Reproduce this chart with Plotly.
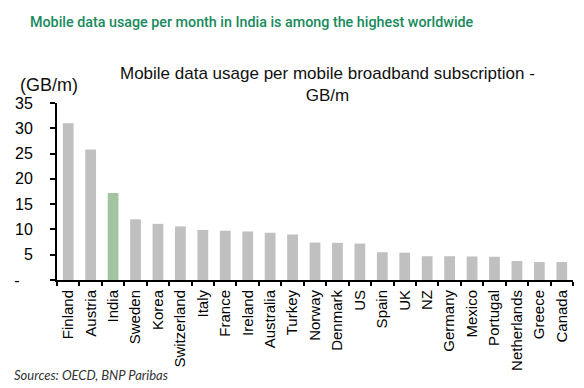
import plotly.graph_objects as go

countries = ["Finland", "Austria", "India", "Sweden", "Korea", "Switzerland", "Italy",
             "France", "Ireland", "Australia", "Turkey", "Norway", "Denmark", "US",
             "Spain", "UK", "NZ", "Germany", "Mexico", "Portugal", "Netherlands",
             "Greece", "Canada"]
usage = [31.0, 25.8, 17.2, 12.0, 11.1, 10.6, 9.9, 9.75, 9.6, 9.35, 9.0, 7.4, 7.35, 7.2,
         5.5, 5.4, 4.7, 4.7, 4.65, 4.6, 3.75, 3.55, 3.55]
y_tickvals = [0, 5, 10, 15, 20, 25, 30, 35]
y_ticktext = ["-\u00a0\u00a0\u00a0", "5", "10", "15", "20", "25", "30", "35"]

colors = ["#a3c4a1" if c == "India" else "#c0c0c0" for c in countries]

OFF = 8  # page body margin
W, H = 584 - OFF, 388 - OFF
PL, PR, PT, PB = 57, 573, 103, 280  # plot area in window pixels
L, R, T, B = PL - OFF, 584 - PR, PT - OFF, 388 - PB
pw, ph = W - L - R, H - T - B

def px(x):
    return (x - PL) / pw

def py(y):
    return (PB - y) / ph

fig = go.Figure(go.Bar(x=countries, y=usage, marker=dict(color=colors, line=dict(width=0)),
                       width=0.48))

fig.update_layout(
    width=W, height=H,
    margin=dict(l=L, r=R, t=T, b=B),
    paper_bgcolor="white", plot_bgcolor="white",
    showlegend=False,
    font=dict(family="Liberation Sans, Arial, sans-serif", color="#000"),
    xaxis=dict(
        type="category", tickangle=-90, tickfont=dict(size=15, color="#000"),
        showline=True, linecolor="#000", linewidth=2,
        ticks="outside", ticklen=4, tickwidth=2, tickcolor="#000",
        tickson="boundaries", showgrid=False, range=[-0.5, len(countries) - 0.5],
        ticklabelstandoff=2, automargin=False,
    ),
    yaxis=dict(
        range=[0, 35], tickvals=y_tickvals, ticktext=y_ticktext,
        tickfont=dict(size=16, color="#000"),
        showline=True, linecolor="#000", linewidth=2,
        ticks="outside", ticklen=5, tickwidth=2, tickcolor="#000",
        showgrid=False, zeroline=False, ticklabelstandoff=14, automargin=False,
    ),
    annotations=[
        dict(text="Mobile data usage per month in India is among the highest worldwide",
             x=px(28), y=py(22), xref="paper", yref="paper", xanchor="left", yanchor="middle",
             showarrow=False,
             font=dict(family="Roboto, sans-serif", size=14.3, color="#188a5c", weight=500)),
        dict(text="Mobile data usage per mobile broadband subscription -<br>GB/m",
             x=px(327), y=py(84), xref="paper", yref="paper", xanchor="center", yanchor="middle",
             showarrow=False, align="center",
             font=dict(size=17, color="#111")),
        dict(text="(GB/m)", x=px(18), y=py(85), xref="paper", yref="paper",
             xanchor="left", yanchor="middle", showarrow=False,
             font=dict(size=18, color="#111")),
        dict(text="<i>Sources: OECD, BNP Paribas</i>", x=px(12), y=py(375), xref="paper",
             yref="paper", xanchor="left", yanchor="middle", showarrow=False,
             font=dict(family="Lato, Open Sans, sans-serif", size=13, color="#333")),
    ],
)

fig.write_html("out.html")
